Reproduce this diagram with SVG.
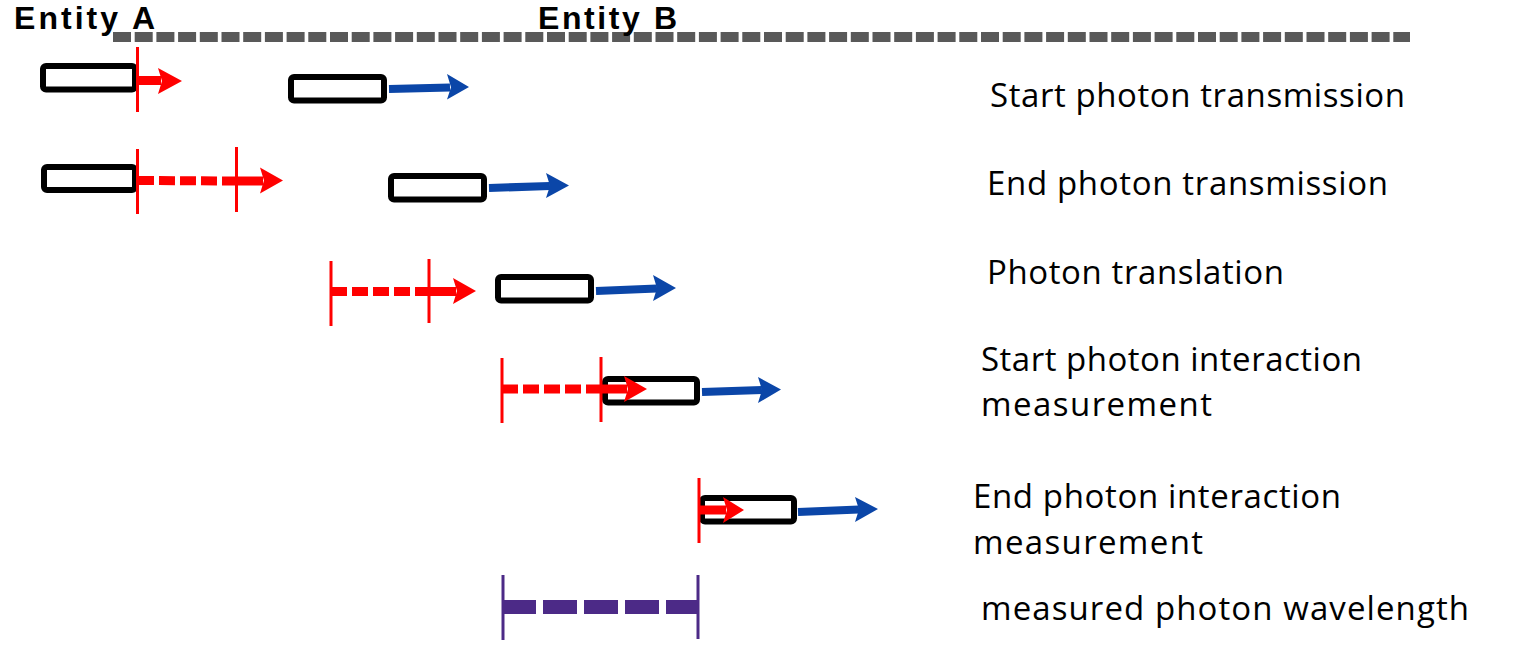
<svg xmlns="http://www.w3.org/2000/svg" width="1535" height="661" viewBox="0 0 1535 661">
<style>
.bar{fill:#fff;stroke:#000;stroke-width:6}
.tick{stroke:#ff0000;stroke-width:3}
.shaft{stroke:#ff0000;stroke-width:9}
.dash{stroke:#ff0000;stroke-width:9;stroke-dasharray:16 5}
.rhead{fill:#ff0000}
.bshaft{stroke:#0b46a8;stroke-width:8}
.bhead{fill:#0b46a8}
.ptick{stroke:#4c2a87;stroke-width:3}
.pdash{stroke:#4c2a87;stroke-width:14;stroke-dasharray:34 7}
.lbl{font-family:"Open Sans","Noto Sans","Liberation Sans",sans-serif;font-size:33px;fill:#000}
.ent{font-family:"Liberation Sans",Arial,sans-serif;font-size:32px;font-weight:700;fill:#000}
</style>
<rect width="1535" height="661" fill="#fff"/>
<g id="timeline">
<line x1="113" y1="37" x2="1410" y2="37" stroke="#595959" stroke-width="10" stroke-dasharray="18 3.7"/>
</g>
<g id="entity-a"><text class="ent" x="14" y="29" textLength="141" lengthAdjust="spacing">Entity A</text></g>
<g id="entity-b"><text class="ent" x="538" y="29" textLength="139" lengthAdjust="spacing">Entity B</text></g>

<g id="bar-r1-a"><rect class="bar" x="43" y="66" width="92" height="23.5" rx="3"/></g>
<g id="bar-r1-b"><rect class="bar" x="291" y="77" width="93" height="23.5" rx="3"/></g>
<g id="bar-r2-a"><rect class="bar" x="44" y="167" width="91" height="23" rx="3"/></g>
<g id="bar-r2-b"><rect class="bar" x="391" y="176" width="93" height="23.5" rx="3"/></g>
<g id="bar-r3"><rect class="bar" x="498" y="277" width="93" height="23.5" rx="3"/></g>
<g id="bar-r4"><rect class="bar" x="605" y="379" width="92" height="23.5" rx="3"/></g>
<g id="bar-r5"><rect class="bar" x="702" y="498" width="92" height="23.5" rx="3"/></g>

<g id="connectors">
<!-- row 1 -->
<line class="tick" x1="137.5" y1="47" x2="137.5" y2="112"/>
<line class="shaft" x1="138" y1="80.5" x2="161" y2="80.5"/>
<polygon class="rhead" points="158,68 182,81 158,94 162,81"/>
<line class="bshaft" x1="389" y1="89" x2="450" y2="87.5"/>
<polygon class="bhead" points="447,74 469,87 447,99.5 451,87.3"/>
<!-- row 2 -->
<line class="tick" x1="137.5" y1="149" x2="137.5" y2="214"/>
<line class="tick" x1="236.5" y1="147" x2="236.5" y2="212"/>
<line class="dash" x1="138" y1="180.5" x2="237" y2="181"/>
<line class="shaft" x1="237" y1="181" x2="263" y2="181"/>
<polygon class="rhead" points="260,167.5 283,180.5 260,193.5 264,180.5"/>
<line class="bshaft" x1="489" y1="188" x2="550" y2="186"/>
<polygon class="bhead" points="546,173 569,185.5 546,198 550,185.8"/>
<!-- row 3 -->
<line class="tick" x1="331" y1="261" x2="331" y2="326"/>
<line class="tick" x1="429" y1="259" x2="429" y2="323"/>
<line class="dash" x1="331" y1="291.5" x2="429" y2="291.5"/>
<line class="shaft" x1="429" y1="291.5" x2="456" y2="291.5"/>
<polygon class="rhead" points="453,278 476,291 453,304 457,291"/>
<line class="bshaft" x1="596" y1="291" x2="657" y2="288.5"/>
<polygon class="bhead" points="653,275 676,288 653,301 657,288.3"/>
<!-- row 4 -->
<line class="tick" x1="502" y1="358" x2="502" y2="423"/>
<line class="tick" x1="601" y1="357" x2="601" y2="422"/>
<line class="dash" x1="502" y1="389" x2="601" y2="389"/>
<line class="shaft" x1="601" y1="389" x2="627" y2="389"/>
<polygon class="rhead" points="624,376 647,389 624,402 628,389"/>
<line class="bshaft" x1="702" y1="392" x2="762" y2="390"/>
<polygon class="bhead" points="758,377 781,389.5 758,403 762,390"/>
<!-- row 5 -->
<line class="tick" x1="699" y1="478" x2="699" y2="543"/>
<line class="shaft" x1="699" y1="510" x2="726" y2="510"/>
<polygon class="rhead" points="723,497 744,510 723,523 727,510"/>
<line class="bshaft" x1="798" y1="512" x2="859" y2="509.5"/>
<polygon class="bhead" points="855,497 878,509 855,522 859,509.5"/>
<!-- measured wavelength -->
<line class="ptick" x1="503" y1="575" x2="503" y2="640"/>
<line class="ptick" x1="698" y1="575" x2="698" y2="639"/>
<line class="pdash" x1="502" y1="607" x2="698" y2="607"/>
</g>

<g id="labels">
<text class="lbl" x="990" y="107" textLength="415" lengthAdjust="spacing">Start photon transmission</text>
<text class="lbl" x="987" y="195" textLength="401" lengthAdjust="spacing">End photon transmission</text>
<text class="lbl" x="987" y="284" textLength="297" lengthAdjust="spacing">Photon translation</text>
<text class="lbl" x="981" y="371" textLength="381" lengthAdjust="spacing">Start photon interaction</text>
<text class="lbl" x="981" y="416" textLength="231" lengthAdjust="spacing">measurement</text>
<text class="lbl" x="973" y="508" textLength="368" lengthAdjust="spacing">End photon interaction</text>
<text class="lbl" x="973" y="554" textLength="230" lengthAdjust="spacing">measurement</text>
<text class="lbl" x="981" y="620" textLength="488" lengthAdjust="spacing">measured photon wavelength</text>
</g>
</svg>
